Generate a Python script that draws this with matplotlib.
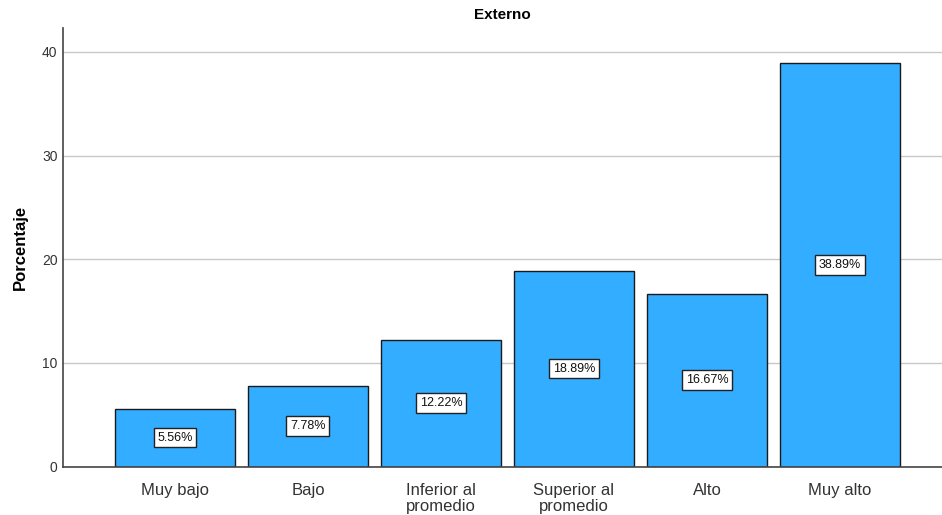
import matplotlib
matplotlib.use("Agg")
import matplotlib.pyplot as plt
import numpy as np

plt.rcParams['font.family'] = ['Liberation Sans', 'DejaVu Sans']

categories = ["Muy bajo", "Bajo", "Inferior al\npromedio", "Superior al\npromedio", "Alto", "Muy alto"]
values = [5.56, 7.78, 12.22, 18.89, 16.67, 38.89]
yticks = [0, 10, 20, 30, 40]
title = "Externo"
ylabel = "Porcentaje"

fig = plt.figure(figsize=(9.42, 5.15), dpi=100)
ax = fig.add_axes([63/942, (515-466.5)/515, 1 - 63/942, (466.5-28)/515])

x = np.arange(len(categories))
ax.set_axisbelow(True)
ax.yaxis.grid(True, color='#c8c8c8', linewidth=1)
ax.bar(x, values, width=0.906, color='#33adff', edgecolor='#1a1a1a', linewidth=1, zorder=2)

for xi, v in zip(x, values):
    ax.text(xi, v / 2, f"{v:.2f}%", ha='center', va='center', fontsize=9, color='#111111', zorder=3,
            bbox=dict(boxstyle='square,pad=0.3', facecolor='white', edgecolor='#222222', linewidth=1))

ax.set_xlim(-0.842, 5.767)
ax.set_ylim(0, 42.3)
ax.set_xticks(x)
ax.set_xticklabels(categories, fontsize=12, color='#333333', linespacing=1.05)
ax.set_yticks(yticks)
ax.set_yticklabels([str(t) for t in yticks], fontsize=10, color='#333333')
ax.tick_params(axis='y', length=0, pad=4)
ax.tick_params(axis='x', length=0, pad=12)

for s in ['top', 'right']:
    ax.spines[s].set_visible(False)
for s in ['left', 'bottom']:
    ax.spines[s].set_color('#444444')
    ax.spines[s].set_linewidth(1.2)

ax.set_ylabel(ylabel, fontsize=12, fontweight='bold')
ax.yaxis.set_label_coords((28 - 63) / 879, 0.5)
fig.text((63 + 942) / 2 / 942, 1 - 15/515, title, ha='center', va='center', fontsize=11, fontweight='bold')

fig.savefig("out.png", dpi=100)
